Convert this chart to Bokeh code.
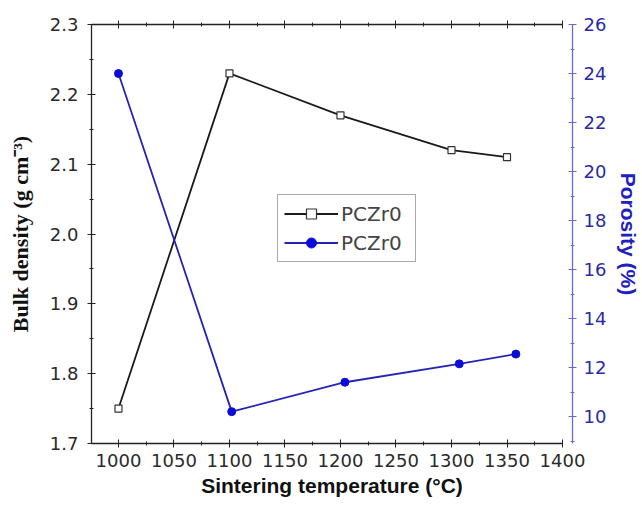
from bokeh.plotting import figure
from bokeh.models import (LinearAxis, Range1d, Legend, LegendItem,
                          SingleIntervalTicker, FixedTicker, PrintfTickFormatter)
from bokeh.embed import file_html
from bokeh.resources import INLINE

# data
temp_density = [1000, 1100, 1200, 1300, 1350]
bulk_density = [1.75, 2.23, 2.17, 2.12, 2.11]
temp_porosity = [1000, 1102, 1204, 1307, 1358]
porosity = [24.0, 10.2, 11.4, 12.15, 12.55]
density_ticks = [1.7, 1.8, 1.9, 2.0, 2.1, 2.2, 2.3]
density_minor = [1.75, 1.85, 1.95, 2.05, 2.15, 2.25]
series_label = "PCZr0"
x_label = "Sintering temperature (\u00b0C)"
y_label = "Bulk density (g cm\u207b\u00b3)"
y2_label = "Porosity (%)"

BLUE_LINE = "#2424b4"
BLUE_MARK = "#0c0cd8"
BLUE_TEXT = "#2a2aa8"
BLUE_AXIS = "#6a6ad2"
BLACK = "#1a1a1a"

p = figure(frame_width=481, frame_height=419,
           x_range=Range1d(975.7, 1409), y_range=Range1d(1.7, 2.3),
           output_backend="svg", toolbar_location=None,
           x_axis_location=None, y_axis_location=None,
           min_border_left=91, min_border_right=67,
           min_border_top=24, min_border_bottom=60)
p.outline_line_color = None
p.grid.visible = False
p.extra_y_ranges = {"por": Range1d(8.9, 26)}

font = "Liberation Sans"
tick_font = "DejaVu Sans"

def style(ax, color="#222222", label_color="#2a2a2a"):
    ax.axis_line_color = color
    ax.axis_line_width = 1.3
    ax.major_tick_line_color = color
    ax.minor_tick_line_color = color
    ax.major_tick_in = 4
    ax.major_tick_out = 4
    ax.minor_tick_in = 2
    ax.minor_tick_out = 2
    ax.major_label_text_font = tick_font
    ax.major_label_text_font_size = "18px"
    ax.major_label_text_color = label_color

xt = SingleIntervalTicker(interval=50, num_minor_ticks=2)
bottom = LinearAxis(ticker=xt, bounds=(975.7, 1400))
style(bottom)
bottom.major_label_standoff = 6
bottom.axis_label = x_label
bottom.axis_label_text_font = font
bottom.axis_label_text_font_style = "bold"
bottom.axis_label_text_font_size = "21px"
bottom.axis_label_text_color = "#111111"
bottom.axis_label_standoff = 4
p.add_layout(bottom, "below")

top = LinearAxis(ticker=SingleIntervalTicker(interval=50, num_minor_ticks=2),
                 bounds=(975.7, 1400))
style(top)
top.major_label_text_font_size = "0px"
top.major_label_text_alpha = 0
p.add_layout(top, "above")

left = LinearAxis(ticker=FixedTicker(ticks=density_ticks, minor_ticks=density_minor),
                  formatter=PrintfTickFormatter(format="%.1f"))
style(left)
left.major_label_standoff = 9
left.axis_label = y_label
left.axis_label_text_font = "Liberation Serif"
left.axis_label_text_font_style = "bold"
left.axis_label_text_font_size = "22px"
left.axis_label_text_color = "#111111"
left.axis_label_standoff = 14
p.add_layout(left, "left")

right = LinearAxis(y_range_name="por",
                   ticker=SingleIntervalTicker(interval=2, num_minor_ticks=2))
style(right, color=BLUE_AXIS, label_color=BLUE_TEXT)
right.major_label_standoff = 7
right.axis_label = y2_label
right.axis_label_text_font = font
right.axis_label_text_font_style = "bold"
right.axis_label_text_font_size = "21px"
right.axis_label_text_color = "#2020c0"
right.axis_label_standoff = 8
p.add_layout(right, "right")

l1 = p.line(temp_density, bulk_density, line_color=BLACK, line_width=1.8)
s1 = p.scatter(temp_density, bulk_density, marker="square", size=7,
               fill_color="white", line_color="#333333", line_width=1.2)
l2 = p.line(temp_porosity, porosity, y_range_name="por",
            line_color=BLUE_LINE, line_width=1.8)
s2 = p.scatter(temp_porosity, porosity, y_range_name="por", marker="circle",
               size=8, fill_color=BLUE_MARK, line_color=BLUE_MARK)

legend = Legend(items=[LegendItem(label=series_label, renderers=[l1, s1]),
                       LegendItem(label=series_label, renderers=[l2, s2])],
                location=(186, 181))
legend.border_line_color = "#555555"
legend.border_line_width = 1.2
legend.label_text_font = tick_font
legend.label_text_font_size = "20px"
legend.glyph_width = 54
legend.glyph_height = 25
legend.label_standoff = 3
legend.label_width = 68
legend.spacing = 4
legend.padding = 6
legend.margin = 0
legend.background_fill_alpha = 1
p.add_layout(legend, "center")

open("out.html", "w").write(file_html(p, INLINE))
